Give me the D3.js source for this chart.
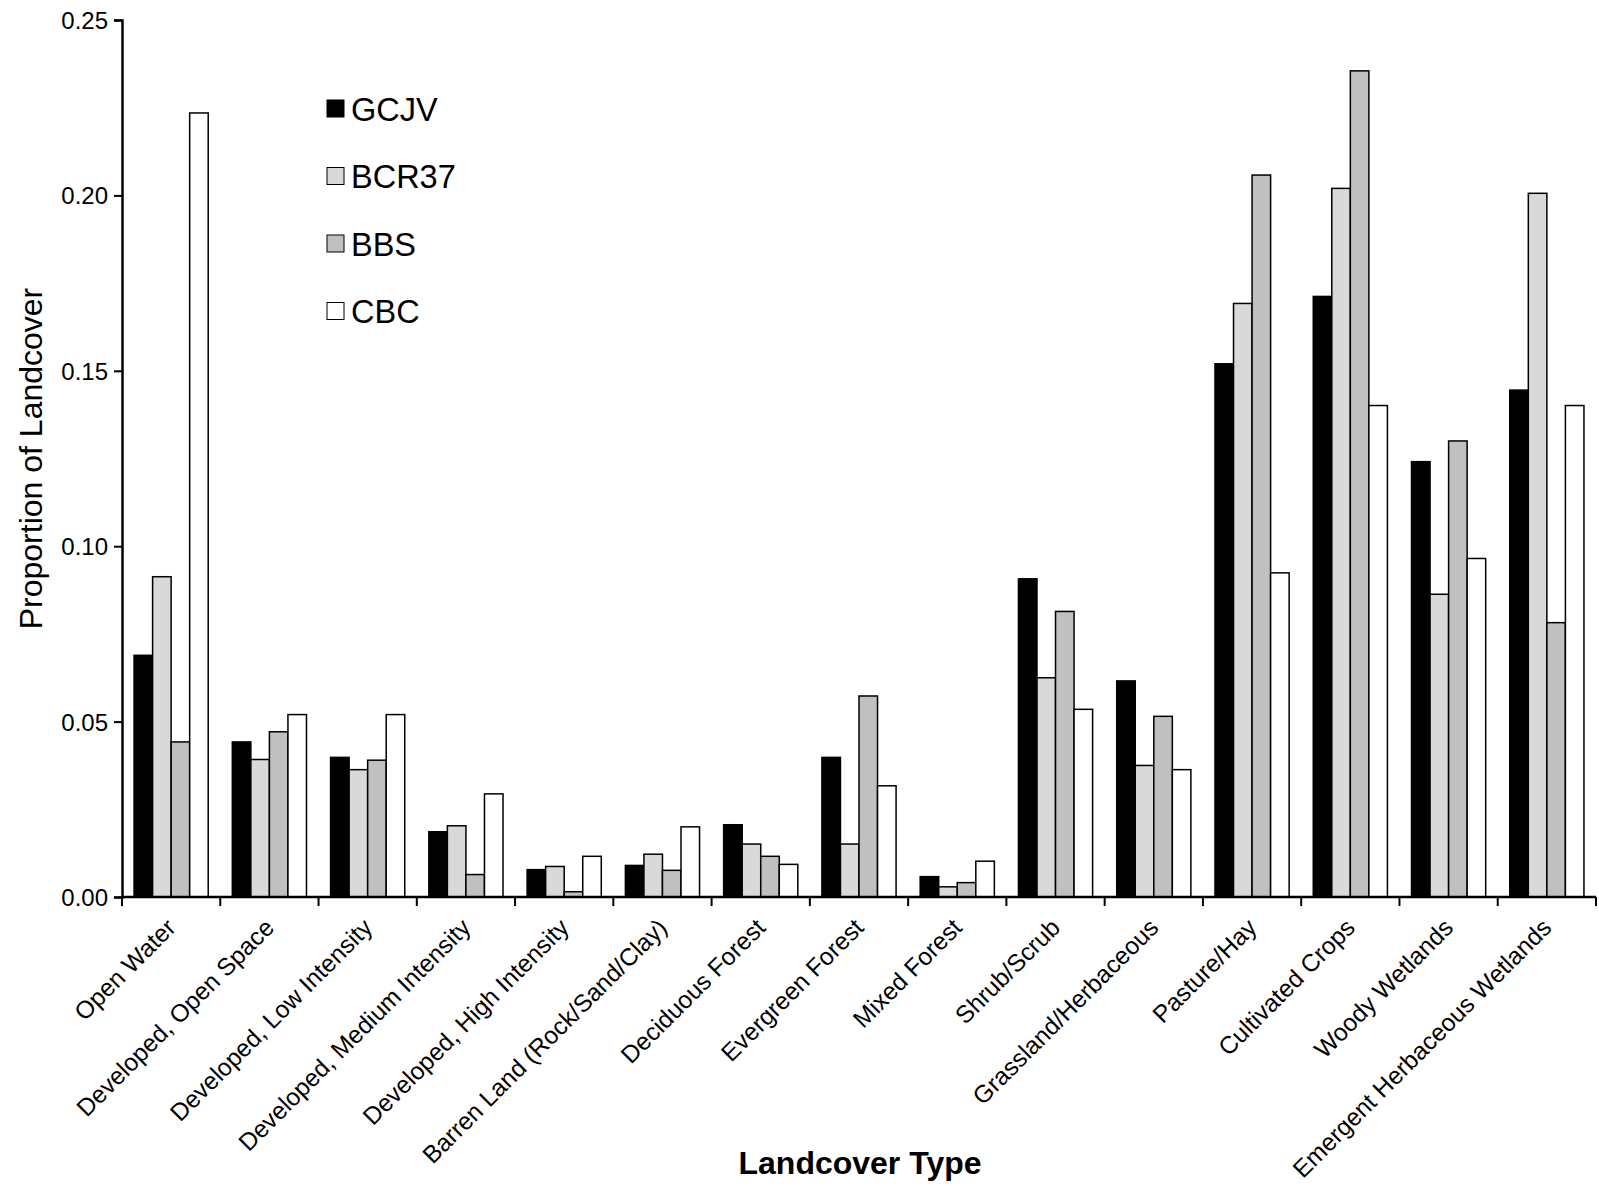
<!DOCTYPE html>
<html><head><meta charset="utf-8">
<script src="https://cdn.jsdelivr.net/npm/d3@7"></script>
<style>
html,body{margin:0;padding:0;background:#fff;}
text{font-family:"Liberation Sans",Arial,sans-serif;fill:#000;}
</style></head>
<body>
<svg id="chart" width="1599" height="1188"></svg>
<script>
const categories = ["Open Water","Developed, Open Space","Developed, Low Intensity","Developed, Medium Intensity","Developed, High Intensity","Barren Land (Rock/Sand/Clay)","Deciduous Forest","Evergreen Forest","Mixed Forest","Shrub/Scrub","Grassland/Herbaceous","Pasture/Hay","Cultivated Crops","Woody Wetlands","Emergent Herbaceous Wetlands"];
const seriesNames = ["GCJV","BCR37","BBS","CBC"];
const seriesColors = ["#000000","#d9d9d9","#c0c0c0","#ffffff"];
const GCJV  = [0.0689,0.0442,0.0398,0.0186,0.0078,0.0090,0.0206,0.0398,0.0058,0.0907,0.0616,0.1520,0.1712,0.1241,0.1445];
const BCR37 = [0.0913,0.0392,0.0363,0.0203,0.0087,0.0122,0.0151,0.0151,0.0029,0.0625,0.0375,0.1692,0.2020,0.0863,0.2006];
const BBS   = [0.0442,0.0471,0.0390,0.0064,0.0015,0.0076,0.0116,0.0573,0.0041,0.0814,0.0515,0.2058,0.2355,0.1300,0.0782];
const CBC   = [0.2235,0.0520,0.0520,0.0294,0.0116,0.0200,0.0093,0.0317,0.0102,0.0535,0.0363,0.0924,0.1401,0.0965,0.1401];
const yTicks = [0,0.05,0.10,0.15,0.20,0.25];
const values = [GCJV,BCR37,BBS,CBC];

const svg = d3.select("#chart");
const L = 122, R = 1596, T = 20, B = 897;
const x = d3.scaleBand().domain(categories).range([L,R]).paddingInner(0).paddingOuter(0);
const inner = d3.scaleBand().domain(seriesNames).range([0,x.bandwidth()]).paddingOuter(0.65).paddingInner(0);
const y = d3.scaleLinear().domain([0,0.25]).range([B,T]);

// bars
const g = svg.append("g");
categories.forEach((c,i)=>{
  seriesNames.forEach((s,j)=>{
    const v = values[j][i];
    g.append("rect")
      .attr("x", x(c)+inner(s))
      .attr("y", y(v))
      .attr("width", inner.bandwidth())
      .attr("height", y(0)-y(v))
      .attr("fill", seriesColors[j])
      .attr("stroke","#000").attr("stroke-width",1.5);
  });
});

// y axis
const yAxis = d3.axisLeft(y).tickValues(yTicks).tickFormat(d3.format(".2f")).tickSizeOuter(0).tickSize(8).tickPadding(6);
const ya = svg.append("g").attr("transform",`translate(${L},0)`).call(yAxis);
ya.attr("font-size",null).attr("font-family",null);
ya.select(".domain").attr("stroke","#000").attr("stroke-width",2.5);
ya.selectAll(".tick line").attr("stroke","#000").attr("stroke-width",2);
ya.selectAll(".tick text").style("font-size","24px").attr("fill","#000").attr("dy","0.35em");

// x axis baseline and ticks at boundaries
svg.append("line").attr("x1",L).attr("x2",R).attr("y1",B).attr("y2",B).attr("stroke","#000").attr("stroke-width",2.5);
const bounds = categories.map(c=>x(c)).concat([R]);
svg.append("g").selectAll("line").data(bounds).join("line")
  .attr("x1",d=>d).attr("x2",d=>d).attr("y1",B).attr("y2",B+9)
  .attr("stroke","#000").attr("stroke-width",2);

// category labels
svg.append("g").selectAll("text").data(categories).join("text")
  .attr("transform",d=>`translate(${x(d)+x.bandwidth()/2-6},${B+20}) rotate(-45)`)
  .attr("text-anchor","end")
  .attr("dy","0.7em")
  .style("font-size","24.5px")
  .text(d=>d);

// axis titles
svg.append("text").attr("transform",`translate(42,${(T+B)/2}) rotate(-90)`)
  .attr("text-anchor","middle").style("font-size","32px").text("Proportion of Landcover");
svg.append("text").attr("x",860).attr("y",1174).attr("text-anchor","middle")
  .style("font-size","32px").style("font-weight","bold").text("Landcover Type");

// legend
const leg = svg.append("g");
seriesNames.forEach((s,j)=>{
  const yy = 109 + j*67.5;
  leg.append("rect").attr("x",327).attr("y",yy-9).attr("width",17).attr("height",17)
    .attr("fill",seriesColors[j]).attr("stroke","#000").attr("stroke-width",1);
  leg.append("text").attr("x",351).attr("y",yy).attr("dy","0.36em")
    .style("font-size","32.5px").text(s);
});
</script>
</body></html>
